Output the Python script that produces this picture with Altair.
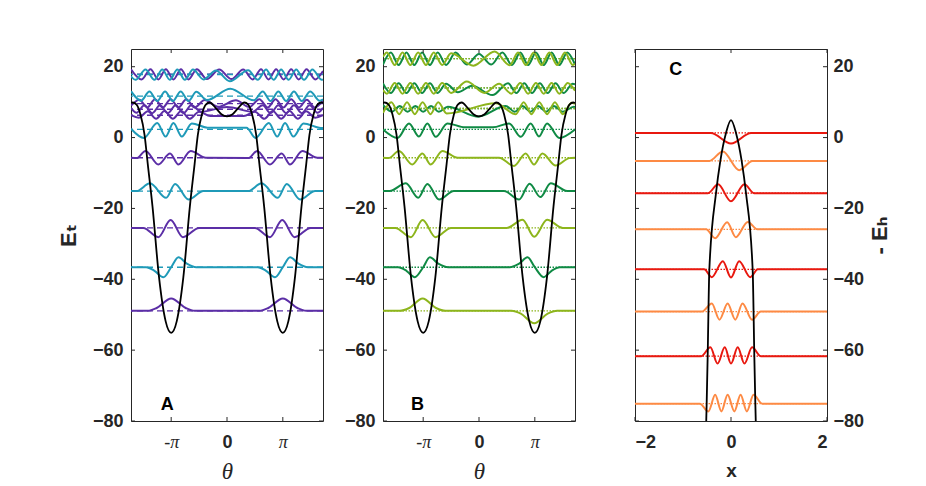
import altair as alt
import pandas as pd

# ---------------- axis ticks ----------------
Y_TICKS = [-80, -60, -40, -20, 0, 20]
THETA_TICKS = [-1, 0, 1]          # theta in units of pi
X_TICKS_C = [-2, 0, 2]

# ---------------- potential (panels A and B), theta in units of pi ----------------
POT_T = [-1.72, -1.69, -1.62, -1.55, -1.478, -1.42, -1.335, -1.218, -1.10, -1.0,
         -0.90, -0.782, -0.665, -0.58, -0.522, -0.45, -0.38, -0.31, -0.20, -0.10, 0.0,
         0.10, 0.20, 0.31, 0.38, 0.45, 0.522, 0.58, 0.665, 0.782, 0.90,
         1.0, 1.10, 1.218, 1.335, 1.42, 1.478, 1.55, 1.62, 1.69, 1.72]
POT_E = [9.8, 9.9, 9.3, 6.5, 0.85, -7.4, -19.4, -39.4, -51.8, -55.1,
         -51.8, -39.4, -19.4, -7.4, 0.85, 6.5, 9.3, 9.9, 8.3, 6.6, 6.0,
         6.6, 8.3, 9.9, 9.3, 6.5, 0.85, -7.4, -19.4, -39.4, -51.8,
         -55.1, -51.8, -39.4, -19.4, -7.4, 0.85, 6.5, 9.3, 9.9, 9.8]

# ---------------- panel A states ----------------
A0_T = [-1.72, -1.42, -1.26, -1.0, -0.74, -0.58, 0.58, 0.74, 1.0, 1.26, 1.42, 1.72]
A0_E = [-48.9, -48.9, -48.1, -45.4, -48.1, -48.9, -48.9, -48.1, -45.4, -48.1, -48.9, -48.9]
A1_T = [-1.72, -1.45, -1.30, -1.14, -1.0, -0.87, -0.72, -0.55, 0.55, 0.70, 0.86, 1.0, 1.13, 1.28, 1.45, 1.72]
A1_E = [-36.6, -36.6, -37.6, -39.4, -36.6, -33.8, -35.6, -36.6, -36.6, -37.6, -39.4, -36.6, -33.8, -35.6, -36.6, -36.6]
A2_T = [-1.72, -1.50, -1.23, -1.01, -0.79, -0.50, 0.50, 0.77, 0.99, 1.21, 1.50, 1.72]
A2_E = [-25.5, -25.5, -28.1, -23.3, -28.1, -25.5, -25.5, -28.1, -23.3, -28.1, -25.5, -25.5]
A3_T = [-1.72, -1.62, -1.38, -1.09, -0.93, -0.69, -0.42, 0.38, 0.62, 0.91, 1.07, 1.31, 1.58, 1.72]
A3_E = [-15.1, -15.1, -12.9, -17.0, -13.1, -17.5, -15.1, -15.1, -12.9, -17.0, -13.1, -17.5, -15.1, -15.1]
A4_T = [-1.72, -1.62, -1.46, -1.23, -1.02, -0.87, -0.65, -0.38, 0.38, 0.54, 0.77, 0.98, 1.13, 1.35, 1.62, 1.72]
A4_E = [-5.7, -5.8, -3.8, -7.6, -4.5, -7.6, -3.8, -5.7, -5.8, -3.8, -7.6, -4.5, -7.6, -3.8, -5.7, -5.7]
A5_T = [-1.72, -1.49, -1.25, -1.10, -0.96, -0.81, -0.63, -0.35, 0.35, 0.51, 0.75, 0.90, 1.04, 1.19, 1.37, 1.65, 1.72]
A5_E = [2.5, -0.1, 4.1, 0.3, 4.1, 0.3, 4.0, 2.8, 2.8, -0.1, 4.1, 0.3, 4.1, 0.3, 4.0, 2.8, 2.7]
A6_T = [-1.72, -1.58, -1.42, -1.27, -1.12, -0.97, -0.82, -0.67, -0.50, -0.30, 0.30, 0.50, 0.67, 0.82, 0.97, 1.12, 1.27, 1.42, 1.58, 1.72]
A6_E = [6.3, 5.6, 7.4, 5.3, 7.5, 5.3, 7.5, 5.3, 7.3, 6.1, 6.1, 7.3, 5.3, 7.5, 5.3, 7.5, 5.3, 7.4, 5.6, 6.3]
A7_T = [-1.72, -1.62, -1.48, -1.34, -1.20, -1.06, -0.92, -0.78, -0.64, -0.46, 0.0, 0.46, 0.64, 0.78, 0.92, 1.06, 1.20, 1.34, 1.48, 1.62, 1.72]
A7_E = [8.4, 7.0, 9.1, 6.9, 9.1, 6.9, 9.1, 6.9, 9.1, 7.3, 8.6, 7.3, 9.1, 6.9, 9.1, 6.9, 9.1, 6.9, 9.1, 7.0, 8.4]
A8_T = [-1.72, -1.57, -1.43, -1.29, -1.15, -1.01, -0.87, -0.73, -0.58, -0.40, -0.16, 0.16, 0.40, 0.58, 0.73, 0.87, 1.01, 1.15, 1.29, 1.43, 1.57, 1.72]
A8_E = [9.0, 10.7, 8.5, 10.8, 8.5, 10.8, 8.5, 10.8, 8.5, 10.6, 8.7, 10.5, 8.6, 10.8, 8.5, 10.8, 8.5, 10.8, 8.5, 10.7, 8.5, 10.4]
A9_T = [-1.72, -1.54, -1.39, -1.25, -1.11, -0.97, -0.83, -0.69, -0.55, -0.36, 0.06, 0.48, 0.64, 0.78, 0.92, 1.06, 1.20, 1.34, 1.49, 1.66, 1.72]
A9_E = [13.1, 10.4, 13.0, 10.3, 13.0, 10.3, 13.0, 10.3, 12.9, 10.6, 13.8, 10.5, 13.0, 10.3, 13.0, 10.3, 13.0, 10.3, 13.0, 10.4, 10.8]
A10_T = [-1.72, -1.53, -1.37, -1.23, -1.095, -0.96, -0.825, -0.69, -0.54, -0.36, -0.14, 0.08, 0.29, 0.46, 0.61, 0.745, 0.88, 1.015, 1.15, 1.285, 1.425, 1.58, 1.72]
A10_E = [19.3, 16.4, 19.3, 16.4, 19.3, 16.4, 19.3, 16.4, 19.3, 16.5, 19.2, 16.5, 19.2, 16.4, 19.3, 16.4, 19.3, 16.4, 19.3, 16.4, 19.3, 16.4, 18.8]
A11_T = [-1.72, -1.64, -1.46, -1.30, -1.16, -1.025, -0.89, -0.755, -0.61, -0.42, -0.20, 0.05, 0.38, 0.55, 0.70, 0.835, 0.97, 1.105, 1.24, 1.38, 1.53, 1.70, 1.72]
A11_E = [17.3, 16.3, 19.2, 16.3, 19.2, 16.3, 19.2, 16.3, 19.2, 16.4, 18.9, 15.9, 19.0, 16.3, 19.2, 16.3, 19.2, 16.3, 19.2, 16.3, 19.2, 16.3, 16.4]
A_LEVELS = [-48.9, -36.6, -25.5, -15.1, -5.7, 2.3, 6.3, 8.0, 9.6, 11.7, 17.9, 17.8]

# ---------------- panel B states ----------------
B0_T = [-1.72, -1.42, -1.25, -1.01, -0.77, -0.60, 0.58, 0.75, 0.99, 1.23, 1.40, 1.72]
B0_E = [-48.9, -48.9, -48.1, -45.4, -48.1, -48.9, -48.9, -49.7, -52.4, -49.7, -48.9, -48.9]
B1_T = [-1.72, -1.45, -1.30, -1.15, -1.0, -0.88, -0.73, -0.55, 0.55, 0.72, 0.87, 1.0, 1.16, 1.30, 1.45, 1.72]
B1_E = [-36.6, -36.6, -37.6, -39.4, -36.6, -33.8, -35.6, -36.6, -36.6, -35.6, -33.8, -36.6, -39.4, -37.6, -36.6, -36.6]
B2_T = [-1.72, -1.50, -1.22, -1.01, -0.78, -0.50, 0.50, 0.78, 0.99, 1.22, 1.50, 1.72]
B2_E = [-25.5, -25.5, -28.1, -23.3, -28.1, -25.5, -25.5, -23.2, -28.0, -23.2, -25.5, -25.5]
B3_T = [-1.72, -1.60, -1.31, -1.09, -0.925, -0.716, -0.45, 0.45, 0.717, 0.907, 1.10, 1.285, 1.58, 1.72]
B3_E = [-15.1, -15.1, -12.9, -17.0, -13.1, -17.5, -15.1, -15.1, -17.5, -13.0, -16.8, -12.9, -15.1, -15.1]
B4_T = [-1.72, -1.62, -1.434, -1.195, -1.014, -0.866, -0.656, -0.38, 0.36, 0.627, 0.836, 0.986, 1.135, 1.375, 1.62, 1.72]
B4_E = [-5.7, -5.8, -3.8, -7.6, -4.5, -7.6, -3.8, -5.7, -5.7, -8.0, -4.5, -7.6, -4.5, -7.9, -5.8, -5.7]
B5_T = [-1.72, -1.46, -1.254, -1.075, -0.925, -0.776, -0.566, -0.25, 0.25, 0.54, 0.75, 0.925, 1.075, 1.22, 1.44, 1.72]
B5_E = [2.3, -0.1, 4.0, 0.3, 4.0, 0.2, 4.0, 2.9, 2.9, 4.0, 0.2, 4.0, 0.3, 4.0, -0.1, 2.3]
B6_T = [-1.72, -1.56, -1.42, -1.28, -1.14, -1.0, -0.86, -0.72, -0.56, -0.02, 0.48, 0.64, 0.78, 0.92, 1.06, 1.20, 1.34, 1.50, 1.70, 1.72]
B6_E = [9.2, 7.3, 8.9, 7.3, 8.9, 7.3, 8.9, 7.3, 8.7, 5.9, 8.9, 7.3, 8.9, 7.3, 8.9, 7.3, 8.9, 7.3, 8.7, 8.6]
B7_T = [-1.72, -1.57, -1.43, -1.29, -1.15, -1.01, -0.87, -0.73, -0.58, 0.30, 0.66, 0.80, 0.94, 1.08, 1.22, 1.36, 1.50, 1.66, 1.72]
B7_E = [7.0, 10.0, 6.6, 10.0, 6.6, 10.0, 6.6, 10.0, 6.8, 9.7, 6.6, 10.0, 6.6, 10.0, 6.6, 10.0, 6.6, 9.8, 9.5]
B8_T = [-1.72, -1.58, -1.44, -1.30, -1.16, -1.02, -0.88, -0.74, -0.59, -0.38, -0.12, 0.24, 0.52, 0.67, 0.81, 0.95, 1.09, 1.23, 1.37, 1.52, 1.68, 1.72]
B8_E = [15.3, 12.6, 15.3, 12.6, 15.3, 12.6, 15.3, 12.6, 15.2, 12.8, 14.6, 12.0, 15.3, 12.6, 15.3, 12.6, 15.3, 12.6, 15.3, 12.6, 15.2, 15.0]
B9_T = [-1.72, -1.65, -1.51, -1.37, -1.23, -1.09, -0.95, -0.81, -0.66, -0.50, -0.22, 0.10, 0.36, 0.58, 0.74, 0.88, 1.02, 1.16, 1.30, 1.44, 1.59, 1.72]
B9_E = [13.4, 12.4, 15.4, 12.4, 15.4, 12.4, 15.4, 12.4, 15.4, 12.6, 15.8, 12.6, 15.2, 12.4, 15.4, 12.4, 15.4, 12.4, 15.4, 12.4, 15.4, 13.2]
B10_T = [-1.72, -1.58, -1.44, -1.30, -1.16, -1.02, -0.88, -0.74, -0.59, -0.42, -0.22, 0.0, 0.22, 0.42, 0.59, 0.74, 0.88, 1.02, 1.16, 1.30, 1.44, 1.58, 1.72]
B10_E = [20.6, 24.0, 20.5, 24.0, 20.5, 24.0, 20.5, 24.0, 20.5, 24.0, 20.6, 23.6, 20.6, 24.0, 20.5, 24.0, 20.5, 24.0, 20.5, 24.0, 20.5, 24.0, 20.6]
B11_T = [-1.72, -1.65, -1.51, -1.37, -1.23, -1.09, -0.95, -0.81, -0.66, -0.50, -0.10, 0.28, 0.55, 0.70, 0.84, 0.98, 1.12, 1.26, 1.40, 1.54, 1.68, 1.72]
B11_E = [22.8, 24.0, 20.5, 24.0, 20.5, 24.0, 20.5, 24.0, 20.5, 23.8, 20.3, 24.3, 20.4, 24.0, 20.5, 24.0, 20.5, 24.0, 20.5, 24.0, 20.5, 20.8]
B_LEVELS = [-48.9, -36.6, -25.5, -15.1, -5.7, 2.3, 8.2, 8.2, 14.0, 14.0, 22.3, 22.3]

# ---------------- panel C ----------------
CP_X = [-0.525, -0.507, -0.486, -0.451, -0.3125, -0.222, -0.104, 0.0, 0.104, 0.222, 0.3125, 0.451, 0.486, 0.507, 0.525]
CP_E = [-85.0, -75.1, -61.7, -37.2, -15.7, -6.6, 1.3, 4.9, 1.3, -6.6, -15.7, -37.2, -61.7, -75.1, -85.0]
C0_X = [-2, -0.42, 0, 0.42, 2]
C0_E = [1.3, 1.3, -1.7, 1.3, 1.3]
C1_X = [-2, -0.45, -0.17, 0.17, 0.45, 2]
C1_E = [-6.6, -6.6, -3.9, -9.2, -6.6, -6.6]
C2_X = [-2, -0.48, -0.27, 0, 0.28, 0.48, 2]
C2_E = [-15.7, -15.7, -13.2, -18.0, -13.2, -15.7, -15.7]
C3_X = [-2, -0.52, -0.33, -0.08, 0.10, 0.35, 0.55, 2]
C3_E = [-25.9, -25.9, -28.4, -23.9, -28.1, -23.8, -25.9, -25.9]
C4_X = [-2, -0.56, -0.40, -0.17, 0, 0.17, 0.40, 0.56, 2]
C4_E = [-37.2, -37.2, -39.4, -34.9, -39.5, -34.9, -39.4, -37.2, -37.2]
C5_X = [-2, -0.60, -0.40, -0.24, -0.07, 0.09, 0.24, 0.44, 0.62, 2]
C5_E = [-49.1, -49.1, -46.8, -51.4, -46.8, -51.4, -46.8, -51.4, -49.1, -49.1]
C6_X = [-2, -0.62, -0.43, -0.28, -0.13, 0, 0.14, 0.28, 0.44, 0.62, 2]
C6_E = [-61.7, -61.7, -59.2, -63.8, -59.2, -63.8, -59.2, -63.8, -59.2, -61.7, -61.7]
C7_X = [-2, -0.65, -0.47, -0.33, -0.20, -0.07, 0.07, 0.20, 0.33, 0.47, 0.65, 2]
C7_E = [-75.1, -75.1, -77.3, -72.6, -77.3, -72.6, -77.3, -72.6, -77.3, -72.6, -75.1, -75.1]
C_LEVELS = [1.3, -6.6, -15.7, -25.9, -37.2, -49.1, -61.7, -75.1]

# panel letters (data coordinates)
LETTERS = {"A": (-1.07, -75.5), "B": (-1.10, -75.5), "C": (-1.15, 19.2)}

# ---------------- styles ----------------
PURPLE = "#5b2ea6"
TEAL = "#1f9ab8"
GREEN = "#0f8a44"
OLIVE = "#8db51c"
RED = "#e8180f"
ORANGE = "#fd8a44"
INK = "#262626"
SANS = "Liberation Sans, Arial, DejaVu Sans"
SERIF = "Liberation Serif, DejaVu Serif"
W, H = 192, 372
TICK = 4

A_CURVES = [(A0_T, A0_E, PURPLE), (A1_T, A1_E, TEAL), (A2_T, A2_E, PURPLE), (A3_T, A3_E, TEAL),
            (A4_T, A4_E, PURPLE), (A5_T, A5_E, TEAL), (A6_T, A6_E, PURPLE), (A7_T, A7_E, PURPLE),
            (A8_T, A8_E, PURPLE), (A9_T, A9_E, TEAL), (A10_T, A10_E, PURPLE), (A11_T, A11_E, TEAL)]
A_LEVEL_COLORS = [PURPLE, TEAL, PURPLE, TEAL, PURPLE, TEAL, PURPLE, PURPLE, PURPLE, TEAL, PURPLE, TEAL]
B_CURVES = [(B0_T, B0_E, OLIVE), (B1_T, B1_E, GREEN), (B2_T, B2_E, OLIVE), (B3_T, B3_E, GREEN),
            (B4_T, B4_E, OLIVE), (B5_T, B5_E, GREEN), (B6_T, B6_E, GREEN), (B7_T, B7_E, OLIVE),
            (B8_T, B8_E, GREEN), (B9_T, B9_E, OLIVE), (B10_T, B10_E, GREEN), (B11_T, B11_E, OLIVE)]
B_LEVEL_COLORS = [OLIVE, GREEN, OLIVE, GREEN, OLIVE, GREEN, GREEN, OLIVE, GREEN, OLIVE, GREEN, OLIVE]
C_CURVES = [(C0_X, C0_E, RED), (C1_X, C1_E, ORANGE), (C2_X, C2_E, RED), (C3_X, C3_E, ORANGE),
            (C4_X, C4_E, RED), (C5_X, C5_E, ORANGE), (C6_X, C6_E, RED), (C7_X, C7_E, ORANGE)]
C_LEVEL_COLORS = [RED, ORANGE, RED, ORANGE, RED, ORANGE, RED, ORANGE]


def curves_frame(curves):
    rows = []
    for i, (xs, es, col) in enumerate(curves):
        for x, e in zip(xs, es):
            rows.append({"curve": i, "color": col, "x": x, "E": e})
    return pd.DataFrame(rows)


def panel(curves, levels, level_colors, pot_x, pot_e, xdom, xticks, theta, dash,
          yorient, ytitle, letter):
    xs = alt.Scale(domain=xdom, nice=False, zero=False)
    ys = alt.Scale(domain=[-80, 25], nice=False, zero=False)

    if theta:
        is0 = "datum.value == 0"
        xaxis = alt.Axis(values=xticks, title="θ",
                         labelExpr="datum.value < 0 ? '-π' : (datum.value > 0 ? 'π' : '0')",
                         labelFont={"condition": {"test": is0, "value": SANS}, "value": SERIF},
                         labelFontStyle={"condition": {"test": is0, "value": "normal"}, "value": "italic"},
                         labelFontWeight={"condition": {"test": is0, "value": "bold"}, "value": "normal"},
                         labelFontSize=18, labelPadding=12, labelColor=INK,
                         ticks=False, tickSize=0, domain=False, grid=False,
                         titleFont=SERIF, titleFontStyle="italic", titleFontWeight="normal",
                         titleFontSize=23, titlePadding=9, titleColor=INK)
    else:
        xaxis = alt.Axis(values=xticks, title="x", format="d",
                         labelFont=SANS, labelFontWeight="bold", labelFontSize=18,
                         labelPadding=12, labelColor=INK,
                         ticks=False, tickSize=0, domain=False, grid=False,
                         titleFont=SANS, titleFontWeight="bold", titleFontSize=19,
                         titlePadding=10, titleColor=INK)

    yaxis_kw = dict(orient=yorient, values=Y_TICKS, format="d",
                    labelFont=SANS, labelFontWeight="bold", labelFontSize=18,
                    labelPadding=8 if yorient == "left" else 6, labelColor=INK,
                    ticks=False, tickSize=0, domain=False, grid=False)
    if ytitle:
        yaxis_kw.update(title=ytitle, titleFont=SANS, titleFontWeight="bold",
                        titleFontSize=22, titleColor=INK, titleAngle=270,
                        titlePadding=12 if yorient == "left" else 28)
    else:
        yaxis_kw.update(title=None)
    yaxis = alt.Axis(**yaxis_kw)

    X = lambda f: alt.X(f, scale=xs, axis=xaxis)
    Y = lambda f: alt.Y(f, scale=ys, axis=yaxis)

    lev_df = pd.DataFrame({"E": levels, "color": level_colors})
    rules = alt.Chart(lev_df).mark_rule(strokeDash=dash, strokeWidth=1.3).encode(
        y=Y("E:Q"),
        color=alt.Color("color:N", scale=None),
    )

    cdf = curves_frame(curves)
    lines = alt.Chart(cdf).mark_line(interpolate="monotone", strokeWidth=2.0, clip=True).encode(
        x=X("x:Q"),
        y=Y("E:Q"),
        color=alt.Color("color:N", scale=None),
        detail="curve:N",
    )

    pdf = pd.DataFrame({"x": pot_x, "E": pot_e})
    pot = alt.Chart(pdf).mark_line(interpolate="monotone", color="black", strokeWidth=1.8, clip=True).encode(
        x=X("x:Q"),
        y=Y("E:Q"),
    )

    ty = pd.DataFrame({"v": Y_TICKS})
    tx = pd.DataFrame({"v": xticks})
    tick_l = alt.Chart(ty).mark_rule(color=INK, strokeWidth=1).encode(
        y=Y("v:Q"), x=alt.value(0), x2=alt.value(TICK))
    tick_r = alt.Chart(ty).mark_rule(color=INK, strokeWidth=1).encode(
        y=Y("v:Q"), x=alt.value(W - TICK), x2=alt.value(W))
    tick_b = alt.Chart(tx).mark_rule(color=INK, strokeWidth=1).encode(
        x=X("v:Q"), y=alt.value(H - TICK), y2=alt.value(H))
    tick_t = alt.Chart(tx).mark_rule(color=INK, strokeWidth=1).encode(
        x=X("v:Q"), y=alt.value(0), y2=alt.value(TICK))

    lx, ly = LETTERS[letter]
    ldf = pd.DataFrame({"x": [lx], "E": [ly], "t": [letter]})
    lab = alt.Chart(ldf).mark_text(font=SANS, fontWeight="bold", fontSize=18, color="black").encode(
        x=X("x:Q"),
        y=Y("E:Q"),
        text="t:N",
    )

    return alt.layer(rules, lines, pot, tick_l, tick_r, tick_b, tick_t, lab).properties(width=W, height=H)


pA = panel(A_CURVES, A_LEVELS, A_LEVEL_COLORS, POT_T, POT_E, [-1.72, 1.72], THETA_TICKS, True,
           [6, 4], "left", "Eₜ", "A")
pB = panel(B_CURVES, B_LEVELS, B_LEVEL_COLORS, POT_T, POT_E, [-1.72, 1.72], THETA_TICKS, True,
           [1.5, 1.5], "left", None, "B")
pC = panel(C_CURVES, C_LEVELS, C_LEVEL_COLORS, CP_X, CP_E, [-2, 2], X_TICKS_C, False,
           [1.5, 1.5], "right", "- Eₕ", "C")

chart = alt.hconcat(pA, pB, pC, spacing=60, bounds="flush").properties(
    padding={"left": 48, "top": 40, "right": 5, "bottom": 0},
    background="white",
).configure_view(stroke=INK, strokeWidth=1)

chart.save("out.html", embed_options={"renderer": "svg", "actions": False})
